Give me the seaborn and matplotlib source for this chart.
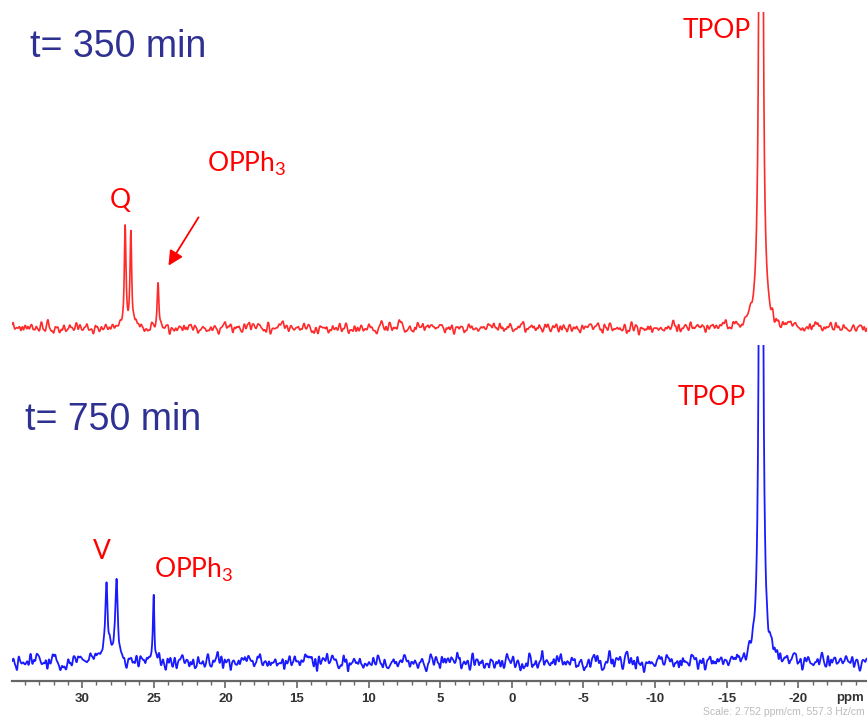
import numpy as np
import pandas as pd
import matplotlib
matplotlib.use("Agg")
import matplotlib.pyplot as plt
import seaborn as sns

# --- 31P NMR peak tables (ppm, intensity, half-width at half-height in ppm) ---
ppm_range = (34.9, -24.8)

peaks_350_ppm = [27.0, 26.6, 24.7, -17.4]
peaks_350_int = [100, 97, 44, 4000]
peaks_350_hw = [0.07, 0.07, 0.07, 0.05]
labels_350 = ["Q", "OPPh$_\\mathregular{3}$", "TPOP"]

peaks_750_ppm = [28.3, 27.6, 25.0, -17.4]
peaks_750_int = [87, 85, 72, 4000]
peaks_750_hw = [0.1, 0.1, 0.06, 0.05]
labels_750 = ["V", "OPPh$_\\mathregular{3}$", "TPOP"]

noise_350 = 2.4
noise_750 = 3.6

tick_values = [30, 25, 20, 15, 10, 5, 0, -5, -10, -15, -20]

W, H = 867, 720
sns.set_theme(style="white")
plt.rcParams["font.family"] = ["Liberation Sans", "DejaVu Sans"]
plt.rcParams["mathtext.fontset"] = "custom"
plt.rcParams["mathtext.rm"] = "Lato"


def spectrum(ppm_axis, centers, heights, hws, noise_amp, seed):
    y = np.zeros_like(ppm_axis)
    for c, h, w in zip(centers, heights, hws):
        y += h * w**2 / ((ppm_axis - c) ** 2 + w**2)
    # acquisition noise on the baseline
    rng = np.random.default_rng(seed)
    n = rng.normal(0, 1, ppm_axis.size)
    k = np.hanning(13)
    n = np.convolve(n, k / k.sum(), mode="same")
    n = n / n.std() * noise_amp
    return y + n


x = np.arange(ppm_range[1], ppm_range[0], 0.02)
df350 = pd.DataFrame({"ppm": x, "I": spectrum(x, peaks_350_ppm, peaks_350_int, peaks_350_hw, noise_350, 3)})
df750 = pd.DataFrame({"ppm": x, "I": spectrum(x, peaks_750_ppm, peaks_750_int, peaks_750_hw, noise_750, 11)})

fig = plt.figure(figsize=(W / 100, H / 100), dpi=100)
left = 12 / W


def px_axes(top_px, bottom_px):
    return fig.add_axes([left, (H - bottom_px) / H, 1 - left, (bottom_px - top_px) / H])


ax_top = px_axes(12, 345)
ax_bot = px_axes(345, 681)
for ax in (ax_top, ax_bot):
    ax.set_facecolor("none")
    ax.set_xlim(*ppm_range)

sns.lineplot(data=df350, x="ppm", y="I", ax=ax_top, color="#ff2a2a", linewidth=1.2, sort=False)
sns.lineplot(data=df750, x="ppm", y="I", ax=ax_bot, color="#1a1aff", linewidth=1.3, sort=False)
ax_top.set_ylim(-17, 316)
ax_bot.set_ylim(-19, 317)

for ax in (ax_top, ax_bot):
    ax.set_xlabel("")
    ax.set_ylabel("")
    ax.set_yticks([])
    for s in ax.spines.values():
        s.set_visible(False)
ax_top.set_xticks([])

ax_bot.spines["bottom"].set_visible(True)
ax_bot.spines["bottom"].set_color("#666666")
ax_bot.spines["bottom"].set_linewidth(1.6)
ax_bot.set_xticks(tick_values)
ax_bot.set_xticklabels([str(v) for v in tick_values], fontsize=9.5, fontweight="bold", color="#333333")
ax_bot.set_xticks(np.arange(-24, 35, 1), minor=True)
ax_bot.tick_params(axis="x", which="major", direction="out", length=5, width=1.2, color="#666666", pad=4, bottom=True)
ax_bot.tick_params(axis="x", which="minor", direction="out", length=3, width=1.0, color="#666666", bottom=True)


def ftext(xp, yp, s, **kw):
    fig.text(xp / W, 1 - yp / H, s, **kw)


title_kw = dict(fontsize=27, color="#2e3192", va="baseline", ha="left")
ftext(30, 57, "t= 350 min", **title_kw)
ftext(25, 430, "t= 750 min", **title_kw)

lab_kw = dict(fontsize=19, color="#ff0000", family=["Lato", "DejaVu Sans"], va="baseline")
ftext(120, 208, labels_350[0], ha="center", **lab_kw)
ftext(207, 172, labels_350[1], ha="left", **lab_kw)
ftext(683, 38, labels_350[2], ha="left", **lab_kw)
ftext(102, 559, labels_750[0], ha="center", **lab_kw)
ftext(154, 577, labels_750[1], ha="left", **lab_kw)
ftext(678, 405, labels_750[2], ha="left", **lab_kw)

fig.add_artist(matplotlib.patches.FancyArrowPatch(
    (200 / W, 1 - 215 / H), (167 / W, 1 - 268 / H), transform=fig.transFigure,
    arrowstyle="-|>", mutation_scale=22, color="#ff0000", linewidth=1.3))

ftext(864, 701, "ppm", fontsize=9.5, fontweight="bold", color="#333333", ha="right", va="baseline")
ftext(865, 715, "Scale: 2.752 ppm/cm, 557.3 Hz/cm", fontsize=7.5, color="#bbbbbb", ha="right", va="baseline")

fig.savefig("out.png", dpi=100)
